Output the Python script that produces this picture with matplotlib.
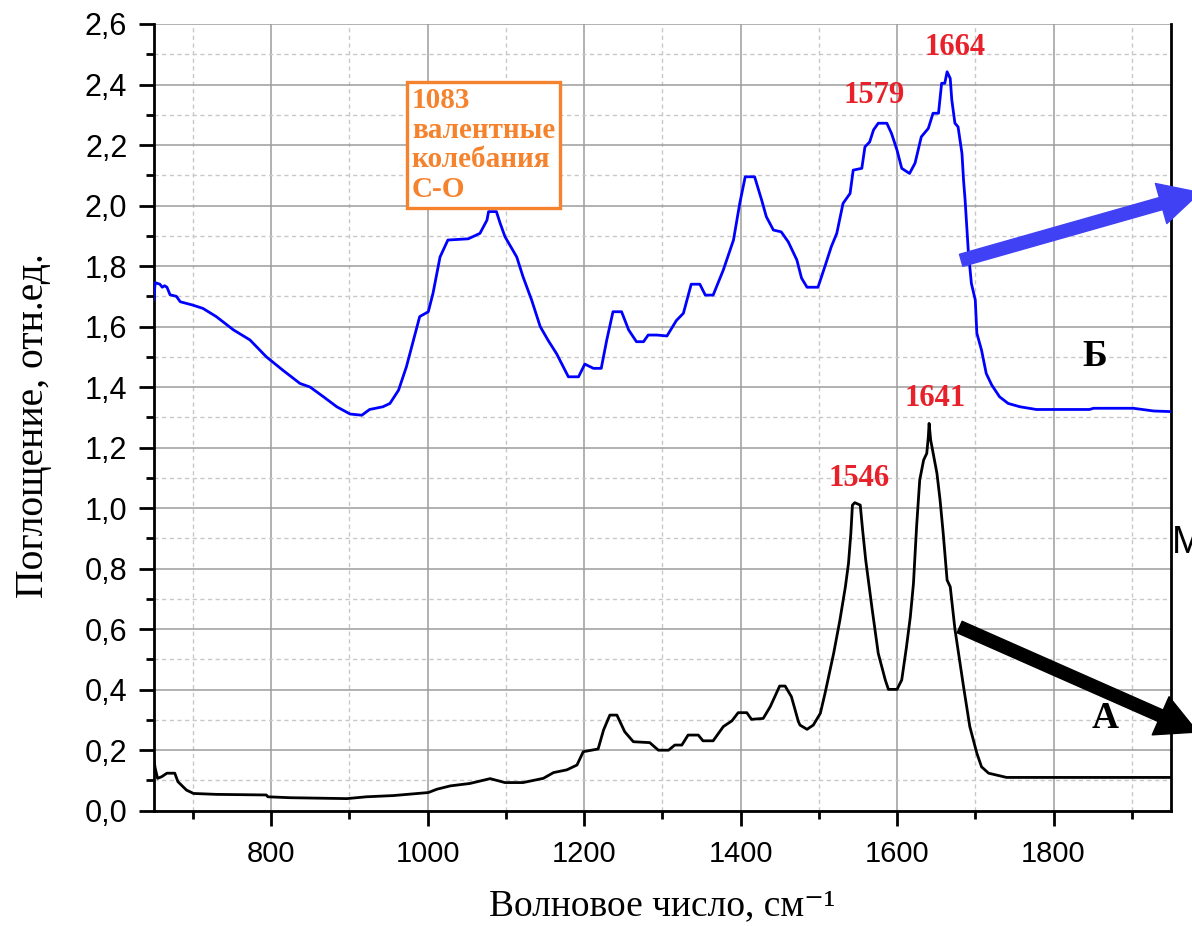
import matplotlib
matplotlib.use('Agg')
import matplotlib.pyplot as plt
from matplotlib.ticker import MultipleLocator, FuncFormatter
from matplotlib.patches import FancyArrowPatch

# спектр Б (синий)
wn_b = [650, 652, 658, 661, 664, 667, 671, 679, 684, 700, 713, 730, 752, 773,
        794, 815, 837, 850, 867, 884, 901, 916, 926, 943, 952, 963, 973, 982,
        990, 1001, 1007, 1016, 1026, 1052, 1067, 1076, 1078, 1088, 1093, 1099,
        1105, 1114, 1122, 1133, 1144, 1154, 1165, 1180, 1193, 1201, 1212, 1222,
        1229, 1237, 1248, 1257, 1267, 1276, 1282, 1293, 1306, 1318, 1327, 1337,
        1348, 1355, 1365, 1378, 1391, 1399, 1406, 1418, 1427, 1433, 1442, 1452,
        1461, 1472, 1478, 1485, 1499, 1508, 1516, 1523, 1531, 1540, 1544, 1555,
        1559, 1565, 1570, 1576, 1587, 1593, 1600, 1606, 1616, 1623, 1631, 1640,
        1646, 1653, 1657, 1661, 1664, 1668, 1670, 1674, 1678, 1683, 1685, 1687,
        1691, 1695, 1700, 1702, 1708, 1714, 1721, 1731, 1742, 1757, 1778, 1846,
        1851, 1902, 1928, 1950]
abs_b = [1.69, 1.745, 1.74, 1.73, 1.735, 1.73, 1.705, 1.70, 1.682, 1.671, 1.66,
         1.633, 1.589, 1.556, 1.50, 1.456, 1.412, 1.40, 1.368, 1.335, 1.311,
         1.307, 1.326, 1.335, 1.346, 1.39, 1.467, 1.555, 1.633, 1.649, 1.71,
         1.83, 1.886, 1.89, 1.908, 1.952, 1.98, 1.98, 1.94, 1.897, 1.87, 1.83,
         1.765, 1.688, 1.60, 1.555, 1.51, 1.434, 1.434, 1.476, 1.462, 1.462,
         1.555, 1.649, 1.649, 1.589, 1.55, 1.55, 1.572, 1.572, 1.569, 1.62,
         1.644, 1.74, 1.74, 1.704, 1.704, 1.787, 1.886, 2.007, 2.095, 2.095,
         2.018, 1.963, 1.919, 1.913, 1.88, 1.82, 1.76, 1.73, 1.73, 1.80, 1.864,
         1.908, 2.007, 2.04, 2.117, 2.123, 2.194, 2.21, 2.25, 2.272, 2.272,
         2.238, 2.183, 2.123, 2.106, 2.14, 2.227, 2.255, 2.305, 2.305, 2.404,
         2.404, 2.442, 2.42, 2.349, 2.272, 2.26, 2.172, 2.084, 2.018, 1.853,
         1.743, 1.688, 1.578, 1.522, 1.445, 1.407, 1.368, 1.346, 1.335, 1.326,
         1.326, 1.33, 1.33, 1.321, 1.319]

# спектр А (черный)
wn_a = [650, 652, 655, 660, 667, 677, 681, 692, 701, 730, 794, 796, 824, 897,
        922, 956, 1001, 1012, 1029, 1054, 1080, 1099, 1122, 1148, 1161, 1178,
        1191, 1199, 1218, 1225, 1233, 1242, 1252, 1263, 1284, 1295, 1308, 1316,
        1325, 1333, 1346, 1352, 1365, 1378, 1389, 1397, 1408, 1414, 1429, 1438,
        1450, 1457, 1465, 1474, 1476, 1485, 1493, 1502, 1508, 1519, 1527, 1534,
        1538, 1541, 1543, 1546, 1553, 1556, 1560, 1568, 1576, 1585, 1589, 1600,
        1606, 1612, 1617, 1621, 1625, 1629, 1634, 1638, 1640, 1641, 1643, 1647,
        1651, 1655, 1659, 1664, 1668, 1674, 1685, 1693, 1702, 1708, 1717, 1740,
        1950]
abs_a = [0.173, 0.14, 0.107, 0.112, 0.124, 0.124, 0.096, 0.068, 0.057, 0.054,
         0.052, 0.046, 0.043, 0.040, 0.046, 0.05, 0.06, 0.071, 0.082, 0.09,
         0.106, 0.093, 0.093, 0.107, 0.126, 0.135, 0.151, 0.195, 0.204, 0.267,
         0.316, 0.316, 0.261, 0.228, 0.225, 0.2, 0.2, 0.217, 0.217, 0.25, 0.25,
         0.231, 0.231, 0.278, 0.297, 0.324, 0.324, 0.302, 0.305, 0.344, 0.412,
         0.412, 0.377, 0.294, 0.283, 0.269, 0.283, 0.322, 0.388, 0.52, 0.63,
         0.74, 0.818, 0.917, 1.01, 1.018, 1.01, 0.928, 0.828, 0.67, 0.52, 0.432,
         0.401, 0.401, 0.432, 0.54, 0.641, 0.751, 0.939, 1.093, 1.159, 1.181,
         1.236, 1.28, 1.225, 1.17, 1.115, 1.027, 0.917, 0.762, 0.74, 0.60, 0.41,
         0.278, 0.19, 0.145, 0.124, 0.11, 0.11]

serif = ['Liberation Serif', 'DejaVu Serif']
sans = 'Liberation Sans'
red = '#E8202A'
orange = '#F5822D'

fig = plt.figure(figsize=(11.92, 9.26), dpi=100)
ax = fig.add_axes([0.1289, 0.1245, 0.8534, 0.8496])

ax.plot(wn_b, abs_b, color='#0000FF', lw=2.0, zorder=3)
ax.plot(wn_a, abs_a, color='black', lw=2.0, zorder=3)

ax.set_xlim(650, 1950)
ax.set_ylim(0, 2.6)
ax.xaxis.set_major_locator(MultipleLocator(200))
ax.xaxis.set_minor_locator(MultipleLocator(100))
ax.yaxis.set_major_locator(MultipleLocator(0.2))
ax.yaxis.set_minor_locator(MultipleLocator(0.1))
ax.yaxis.set_major_formatter(FuncFormatter(lambda v, p: f'{v:.1f}'.replace('.', ',')))

ax.grid(which='major', color='#9C9C9C', lw=1.1, ls='-')
ax.grid(which='minor', color='#C8C8C8', lw=1.0, ls=(0, (3, 2.5)))
ax.set_axisbelow(True)
fig.canvas.draw()
ax.yaxis.get_major_ticks()[-1].gridline.set_visible(False)

ax.spines['top'].set_visible(False)
for s in ['left', 'bottom', 'right']:
    ax.spines[s].set_linewidth(2.0)
ax.tick_params(which='major', direction='out', length=11, width=2, pad=8)
ax.tick_params(which='minor', direction='out', length=6, width=2)
ax.tick_params(axis='y', labelsize=22)
ax.tick_params(axis='x', labelsize=21, pad=10)
for lab in ax.get_xticklabels() + ax.get_yticklabels():
    lab.set_fontfamily(sans)

ax.set_xlabel('Волновое число, см⁻¹', fontfamily=serif, fontsize=27)
ax.set_ylabel('Поглощение, отн.ед.', fontfamily=serif, fontsize=28.5)
ax.xaxis.set_label_coords(0.5, -0.099)
ax.yaxis.set_label_coords(-0.100, 0.49)

# подписи пиков
ax.text(1674, 2.523, '1664', color=red, fontfamily=serif, fontweight='bold',
        fontsize=22, ha='center', va='center')
ax.text(1571, 2.365, '1579', color=red, fontfamily=serif, fontweight='bold',
        fontsize=22, ha='center', va='center')
ax.text(1649, 1.363, '1641', color=red, fontfamily=serif, fontweight='bold',
        fontsize=22, ha='center', va='center')
ax.text(1552, 1.099, '1546', color=red, fontfamily=serif, fontweight='bold',
        fontsize=22, ha='center', va='center')

ax.text(980, 2.20, '1083\nвалентные\nколебания\nС-О', color=orange,
        fontfamily=serif, fontweight='bold', fontsize=21, ha='left', va='center',
        linespacing=1.12, zorder=4,
        bbox=dict(boxstyle='square,pad=0.18', fc='white', ec=orange, lw=2.4))

ax.text(1853, 1.50, 'Б', fontfamily=serif, fontweight='bold', fontsize=27,
        ha='center', va='center')
ax.text(1866, 0.306, 'А', fontfamily=serif, fontweight='bold', fontsize=27,
        ha='center', va='center')

# стрелки к спектрам
for tail, tip, col in [((1682, 1.819), (1987, 2.043), '#4040F5'),
                       ((1680, 0.607), (1984, 0.26), 'black')]:
    arr = FancyArrowPatch(tail, tip, mutation_scale=10, color=col,
                          arrowstyle='simple,head_width=3.0,head_length=2.9,tail_width=0.9',
                          shrinkA=0, shrinkB=0, clip_on=False, zorder=5)
    ax.add_patch(arr)

fig.text(1172 / 1192, 1 - 543 / 926, 'M', fontfamily=sans, fontsize=27,
         ha='left', va='center')

fig.savefig('out.png', dpi=100)
